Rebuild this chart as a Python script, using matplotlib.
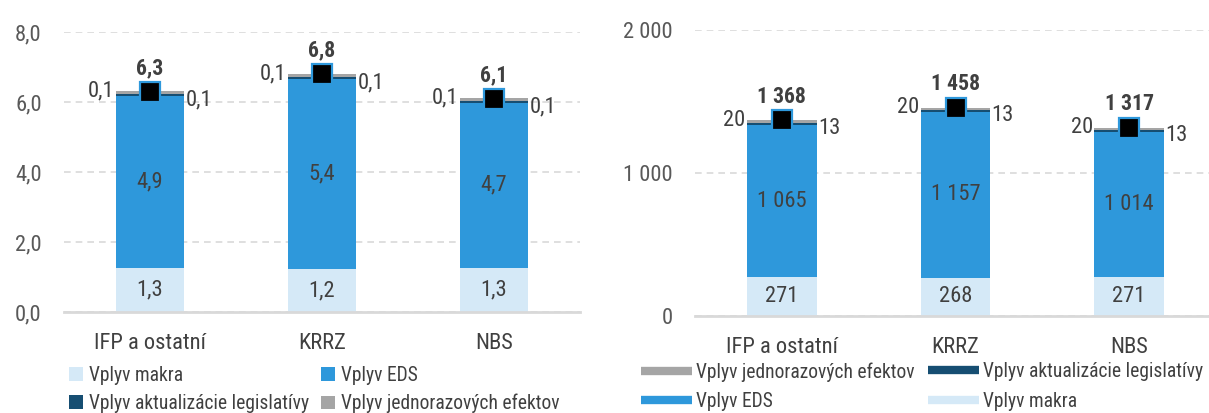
import matplotlib
matplotlib.use("Agg")
import matplotlib.pyplot as plt
from matplotlib.patches import Patch
from matplotlib.lines import Line2D
from matplotlib import font_manager as fm

# ---------------- data ----------------
categories = ["IFP a ostatní", "KRRZ", "NBS"]

# left panel (% HDP)
macro_l = [1.26, 1.23, 1.27]
eds_l = [4.91, 5.42, 4.70]
legis_l = [0.06, 0.06, 0.06]
oneoff_l = [0.08, 0.09, 0.09]
total_l = [6.3, 6.8, 6.1]

# right panel (mil. eur)
macro_r = [271, 268, 271]
eds_r = [1065, 1157, 1014]
legis_r = [13, 13, 13]
oneoff_r = [20, 20, 20]
total_r = [1368, 1458, 1317]

yticks_l = [0, 2, 4, 6, 8]
yticks_r = [0, 1000, 2000]

lab_macro = "Vplyv makra"
lab_eds = "Vplyv EDS"
lab_legis = "Vplyv aktualizácie legislatívy"
lab_one = "Vplyv jednorazových efektov"

# ---------------- font choice ----------------
names = {f.name for f in fm.fontManager.ttflist}
FONT, STRETCH = None, "normal"
for c in ["Liberation Sans Narrow", "Arial Narrow", "Roboto Condensed",
          "Open Sans Condensed", "Noto Sans Condensed", "DejaVu Sans Condensed"]:
    if c in names:
        FONT = c
        break
if FONT is None:
    for e in fm.fontManager.ttflist:
        if (e.name in ("Roboto", "Noto Sans", "Open Sans", "DejaVu Sans", "Liberation Sans", "Lato", "Inter")
                and e.stretch in ("condensed", "semi-condensed", "extra-condensed")
                and e.style == "normal"):
            FONT, STRETCH = e.name, e.stretch
            break
if FONT is None:
    FONT = "Liberation Sans"
plt.rcParams["font.family"] = [FONT, "DejaVu Sans"]
plt.rcParams["font.stretch"] = STRETCH

C_MACRO = "#D5E9F7"
C_EDS = "#2E98DB"
C_LEGIS = "#164E72"
C_ONE = "#A5A5A5"
C_TXT = "#404040"
C_TICK = "#595959"
C_GRID = "#D9D9D9"

W, H = 1209, 413
fig = plt.figure(figsize=(W / 100, H / 100), dpi=100)
renderer = fig.canvas.get_renderer()


def fit_size(s, target_px, cap):
    t = fig.text(0, 0, s, fontsize=10)
    w = t.get_window_extent(renderer).width
    t.remove()
    return min(cap, 10 * target_px / w)


FS = fit_size(categories[0], 111, 16.5)
LFS = fit_size(lab_legis, 219, 15.5)

axL = fig.add_axes([64 / W, 1 - 312 / H, 516 / W, 280 / H])
axR = fig.add_axes([695 / W, 1 - 316 / H, 521 / W, 286 / H])


def fmt_l(v):
    return f"{v:.1f}".replace(".", ",")


def fmt_r(v):
    return f"{v:,.0f}".replace(",", " ")


def draw(ax, macro, eds, legis, oneoff, total, ylim, yticks, fmt):
    x = list(range(len(categories)))
    bw = 0.4
    b1 = macro
    b2 = [a + b for a, b in zip(b1, eds)]
    b3 = [a + b for a, b in zip(b2, legis)]
    top = [a + b for a, b in zip(b3, oneoff)]
    ax.bar(x, macro, bw, color=C_MACRO, zorder=2)
    ax.bar(x, eds, bw, bottom=b1, color=C_EDS, zorder=2)
    ax.bar(x, legis, bw, bottom=b2, color=C_LEGIS, zorder=2)
    ax.bar(x, oneoff, bw, bottom=b3, color=C_ONE, zorder=2)
    ax.plot(x, total, ls="none", marker="s", ms=15, mfc="black",
            mec=C_EDS, mew=1.6, zorder=4)
    for i in x:
        ax.text(i, macro[i] / 2, fmt(macro[i]), ha="center", va="center",
                fontsize=FS, color=C_TXT, zorder=5)
        ax.text(i, b1[i] + eds[i] / 2, fmt(eds[i]), ha="center", va="center",
                fontsize=FS, color=C_TXT, zorder=5)
        ax.annotate(fmt(oneoff[i]), (i - bw / 2, top[i]), xytext=(-1, 0),
                    textcoords="offset points", ha="right", va="center",
                    fontsize=FS, color=C_TXT, zorder=5)
        ax.annotate(fmt(legis[i]), (i + bw / 2, b3[i]), xytext=(1, -4),
                    textcoords="offset points", ha="left", va="center",
                    fontsize=FS, color=C_TXT, zorder=5)
        ax.annotate(fmt(total[i]), (i, total[i]), xytext=(0, 9),
                    textcoords="offset points", ha="center", va="bottom",
                    fontsize=FS - 0.5, fontweight="bold", color=C_TXT, zorder=5)
    ax.set_xlim(-0.5, len(categories) - 0.5)
    ax.set_ylim(*ylim)
    ax.set_yticks(yticks)
    ax.set_yticklabels([fmt(v) for v in yticks])
    ax.set_xticks(x)
    ax.set_xticklabels(categories)
    ax.tick_params(axis="y", length=0, pad=16, labelsize=FS, labelcolor=C_TICK)
    ax.tick_params(axis="x", length=0, pad=15, labelsize=FS, labelcolor=C_TXT)
    for s in ("left", "right", "top"):
        ax.spines[s].set_visible(False)
    ax.spines["bottom"].set_color(C_GRID)
    ax.spines["bottom"].set_linewidth(2)
    ax.spines["bottom"].set_zorder(3)
    ax.yaxis.grid(True, color=C_GRID, ls=(0, (4, 3)), lw=1.2, zorder=0)
    ax.set_axisbelow(True)


draw(axL, macro_l, eds_l, legis_l, oneoff_l, total_l, (0, 8), yticks_l, fmt_l)
draw(axR, macro_r, eds_r, legis_r, oneoff_r, total_r, (0, 2000), yticks_r, fmt_r)

# ---------------- legends ----------------


def sq(c):
    return Patch(facecolor=c, edgecolor="none")


def ln(c):
    return Line2D([], [], color=c, lw=6, solid_capstyle="butt")


common = dict(loc="upper left", frameon=False, borderpad=0, borderaxespad=0,
              fontsize=LFS, labelcolor=C_TXT)

fig.legend([sq(C_MACRO), sq(C_LEGIS)], [lab_macro, lab_legis],
           bbox_to_anchor=(69 / W, 1 - 366 / H), handlelength=0.7,
           handleheight=0.7, handletextpad=0.3, labelspacing=0.45, **common)
fig.legend([sq(C_EDS), sq(C_ONE)], [lab_eds, lab_one],
           bbox_to_anchor=(321 / W, 1 - 366 / H), handlelength=0.7,
           handleheight=0.7, handletextpad=0.3, labelspacing=0.45, **common)
fig.legend([ln(C_ONE), ln(C_EDS)], [lab_one, lab_eds],
           bbox_to_anchor=(641 / W, 1 - 362 / H), handlelength=2.6,
           handletextpad=0.2, labelspacing=0.55, **common)
fig.legend([ln(C_LEGIS), ln(C_MACRO)], [lab_legis, lab_macro],
           bbox_to_anchor=(928 / W, 1 - 362 / H), handlelength=2.6,
           handletextpad=0.2, labelspacing=0.55, **common)

fig.savefig("out.png", dpi=100)
